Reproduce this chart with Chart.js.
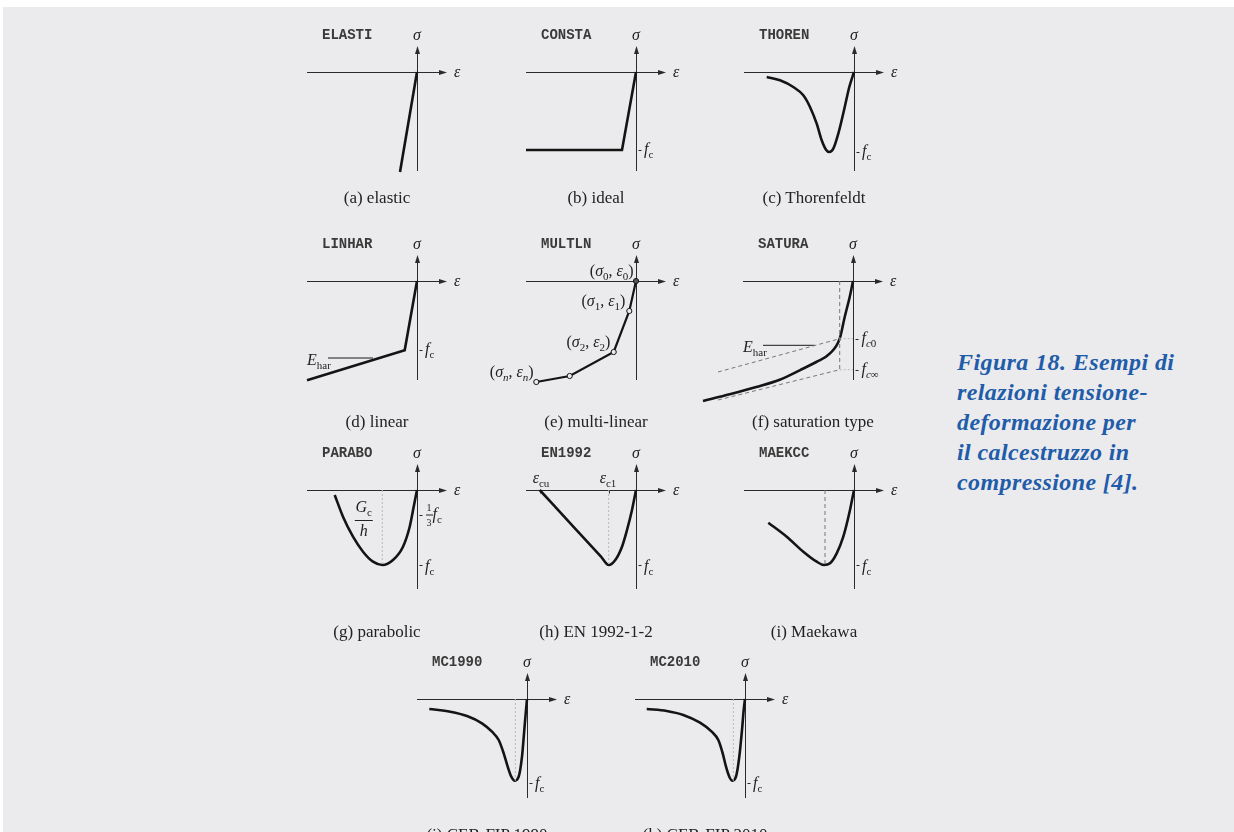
<!doctype html>
<html>
<head>
<title>Relazioni tensione-deformazione</title>
<script src="https://cdn.jsdelivr.net/npm/chart.js@4.4.1/dist/chart.umd.min.js"></script>
<style>
body { margin:0; background:#fff; width:1234px; height:832px; overflow:hidden; position:relative; }
#panel { position:absolute; left:3px; top:7px; right:0; bottom:0; background:#ebebed; }
canvas { position:absolute; }
.lbl { position:absolute; white-space:nowrap; font-family:"Liberation Serif", serif; color:#222; line-height:1; }
.ttl { font-family:"Liberation Mono", monospace; font-size:14px; font-weight:bold; color:#3a3a3a; }
.m { font-size:16px; }
.m.cap { font-size:17px; }
.m i { font-style:italic; }
.m sub { font-size:11px; vertical-align:-4px; }
.frac { display:inline-block; vertical-align:middle; text-align:center; }
.frac > span { display:block; }
.frac .num { border-bottom:1px solid #222; padding:0 1px 2px; }
.frac .den { padding-top:2px; }
.small .frac { font-size:10px; }
#caption { position:absolute; left:957px; top:347px; font-family:"Liberation Serif", serif; font-weight:bold; font-style:italic; font-size:24px; letter-spacing:0.4px; line-height:30px; color:#1f5ca9; }
</style>
</head>
<body>
<div id="panel"></div>
<div id="caption">Figura 18. Esempi di<br>relazioni tensione-<br>deformazione per<br>il calcestruzzo in<br>compressione [4].</div>
<script>
// strain / stress values, fc = roughly 0.8 units below the origin
var elasticX = [-0.17, 0];
var elasticY = [-1.0, 0];

var idealX = [-1.10, -0.14, 0];
var idealY = [-0.78, -0.78, 0];

var thorenX = [-0.873, -0.74, -0.607, -0.507, -0.44, -0.373, -0.323, -0.28, -0.247, -0.207, -0.157, -0.10, -0.047, 0];
var thorenY = [-0.05, -0.083, -0.15, -0.233, -0.35, -0.517, -0.683, -0.777, -0.80, -0.767, -0.617, -0.383, -0.15, 0];

var linharX = [-1.10, -0.123, 0];
var linharY = [-0.993, -0.693, 0];
var linharEhX = [-0.89, -0.44];
var linharEhY = [-0.77, -0.77];

var multlnX = [-0.997, -0.663, -0.223, -0.067, 0];
var multlnY = [-1.01, -0.95, -0.71, -0.30, 0];

var saturaX = [-1.50, -1.233, -0.967, -0.733, -0.533, -0.367, -0.233, -0.133, -0.083, -0.033, 0];
var saturaY = [-1.20, -1.133, -1.06, -0.987, -0.893, -0.81, -0.727, -0.577, -0.36, -0.16, 0];
var saturaUpX = [-1.35, -0.133];
var saturaUpY = [-0.91, -0.577];
var saturaLoX = [-1.35, -0.133];
var saturaLoY = [-1.19, -0.887];
var saturaEhX = [-0.90, -0.383];
var saturaEhY = [-0.643, -0.643];

var paraboX = [-0.823, -0.74, -0.64, -0.54, -0.44, -0.347, -0.24, -0.14, -0.073, -0.033, 0];
var paraboY = [-0.05, -0.267, -0.467, -0.617, -0.717, -0.75, -0.70, -0.567, -0.367, -0.167, 0];

var en1992X = [-0.963, -0.62, -0.35, -0.273, -0.207, -0.14, -0.09, -0.04, 0];
var en1992Y = [0, -0.373, -0.666, -0.75, -0.70, -0.567, -0.40, -0.20, 0];

var maekccX = [-0.857, -0.673, -0.507, -0.373, -0.30, -0.24, -0.173, -0.107, -0.04, 0];
var maekccY = [-0.327, -0.467, -0.617, -0.717, -0.75, -0.733, -0.633, -0.467, -0.20, 0];

var mc1990X = [-0.977, -0.767, -0.60, -0.45, -0.35, -0.283, -0.233, -0.193, -0.157, -0.123, -0.083, -0.05, -0.027, -0.01, 0];
var mc1990Y = [-0.10, -0.127, -0.17, -0.243, -0.327, -0.41, -0.543, -0.677, -0.777, -0.817, -0.777, -0.577, -0.31, -0.11, 0];

var mc2010X = [-0.983, -0.783, -0.617, -0.45, -0.333, -0.267, -0.223, -0.19, -0.157, -0.127, -0.09, -0.057, -0.03, -0.013, 0];
var mc2010Y = [-0.10, -0.12, -0.16, -0.237, -0.327, -0.41, -0.543, -0.677, -0.777, -0.817, -0.777, -0.577, -0.31, -0.11, 0];

var titles = ['ELASTI', 'CONSTA', 'THOREN', 'LINHAR', 'MULTLN', 'SATURA', 'PARABO', 'EN1992', 'MAEKCC', 'MC1990', 'MC2010'];
var captions = ['(a) elastic', '(b) ideal', '(c) Thorenfeldt', '(d) linear', '(e) multi-linear', '(f) saturation type',
  '(g) parabolic', '(h) EN 1992-1-2', '(i) Maekawa', '(j) CEB-FIP 1990', '(k) CEB-FIP 2010'];

function pts(xs, ys) {
  return xs.map(function(x, i) { return { x: x, y: ys[i] }; });
}
function curve(xs, ys) {
  return { data: pts(xs, ys), borderColor: '#141414', borderWidth: 2.6, cubicInterpolationMode: 'monotone' };
}
function poly(xs, ys) {
  return { data: pts(xs, ys), borderColor: '#141414', borderWidth: 2.6, tension: 0 };
}
function thin(xs, ys) {
  return { data: pts(xs, ys), borderColor: '#1a1a1a', borderWidth: 1, tension: 0 };
}
function dashed(xs, ys, light) {
  return { data: pts(xs, ys), borderColor: light ? '#b8b8b8' : '#777', borderWidth: 1,
    borderDash: light ? [2, 2] : [4, 3], tension: 0 };
}

var fc = '<i>f</i><sub>c</sub>';
var ehar = '<i>E</i><sub>har</sub>';

var diagrams = [
  { ox: 417, oy: 72, cy: -1.25, sets: [poly(elasticX, elasticY)], ticks: [], labels: [] },
  { ox: 636, oy: 72, cy: -1.25, sets: [poly(idealX, idealY)], ticks: [-0.78],
    labels: [{ x: 0.08, y: -0.78, a: 'l', html: fc }] },
  { ox: 854, oy: 72, cy: -1.25, sets: [curve(thorenX, thorenY)], ticks: [-0.80],
    labels: [{ x: 0.08, y: -0.80, a: 'l', html: fc }] },
  { ox: 417, oy: 281, cy: -1.40, sets: [poly(linharX, linharY), thin(linharEhX, linharEhY)], ticks: [-0.693],
    labels: [{ x: 0.08, y: -0.693, a: 'l', html: fc }, { x: -1.10, y: -0.80, a: 'l', html: ehar }] },
  { ox: 636, oy: 281, cy: -1.40, sets: [], ticks: [],
    labels: [
      { x: -0.023, y: 0.09, a: 'r', html: '(<i>σ</i><sub>0</sub>, <i>ε</i><sub>0</sub>)' },
      { x: -0.107, y: -0.21, a: 'r', html: '(<i>σ</i><sub>1</sub>, <i>ε</i><sub>1</sub>)' },
      { x: -0.257, y: -0.62, a: 'r', html: '(<i>σ</i><sub>2</sub>, <i>ε</i><sub>2</sub>)' },
      { x: -1.023, y: -0.92, a: 'r', html: '(<i>σ<sub>n</sub></i>, <i>ε<sub>n</sub></i>)' }] },
  { ox: 853, oy: 281, cy: -1.40,
    sets: [dashed(saturaUpX, saturaUpY), dashed(saturaLoX, saturaLoY),
      dashed([-0.133, -0.133], [0, -0.887]), dashed([-0.133, 0], [-0.577, -0.577], true),
      dashed([-0.133, 0], [-0.887, -0.887], true), thin(saturaEhX, saturaEhY), curve(saturaX, saturaY)],
    ticks: [-0.577, -0.887],
    labels: [{ x: 0.085, y: -0.577, a: 'l', html: '<i>f</i><sub><i>c</i>0</sub>' },
      { x: 0.085, y: -0.89, a: 'l', html: '<i>f</i><sub><i>c</i>∞</sub>' },
      { x: -1.10, y: -0.67, a: 'l', html: ehar }] },
  { ox: 417, oy: 490, cy: -1.41, sets: [dashed([-0.347, -0.347], [0, -0.75], true), curve(paraboX, paraboY)],
    ticks: [-0.25, -0.75],
    labels: [{ x: 0.085, y: -0.25, a: 'l', cls: 'm small', html: '<span class="frac"><span class="num">1</span><span class="den">3</span></span><i>f</i><sub>c</sub>' },
      { x: 0.08, y: -0.77, a: 'l', html: fc },
      { x: -0.533, y: -0.29, a: 'c', html: '<span class="frac"><span class="num"><i>G</i><sub>c</sub></span><span class="den"><i>h</i></span></span>' }] },
  { ox: 636, oy: 490, cy: -1.41, sets: [dashed([-0.273, -0.273], [0, -0.75], true), curve(en1992X, en1992Y)],
    ticks: [-0.75], xticks: [-0.963, -0.273],
    labels: [{ x: 0.08, y: -0.77, a: 'l', html: fc },
      { x: -0.95, y: 0.11, a: 'c', html: '<i>ε</i><sub>cu</sub>' },
      { x: -0.28, y: 0.11, a: 'c', html: '<i>ε</i><sub>c1</sub>' }] },
  { ox: 854, oy: 490, cy: -1.41, sets: [dashed([-0.29, -0.29], [0, -0.75]), curve(maekccX, maekccY)],
    ticks: [-0.75], labels: [{ x: 0.08, y: -0.77, a: 'l', html: fc }] },
  { ox: 527, oy: 699, cy: -1.35, sets: [dashed([-0.117, -0.117], [0, -0.817], true), curve(mc1990X, mc1990Y)],
    ticks: [-0.84], labels: [{ x: 0.08, y: -0.85, a: 'l', html: fc }] },
  { ox: 745, oy: 699, cy: -1.35, sets: [dashed([-0.117, -0.117], [0, -0.817], true), curve(mc2010X, mc2010Y)],
    ticks: [-0.84], labels: [{ x: 0.08, y: -0.85, a: 'l', html: fc }] }
];

// multi-linear points with open markers
diagrams[4].sets.push({
  data: pts(multlnX, multlnY), borderColor: '#141414', borderWidth: 2.2, tension: 0,
  pointRadius: 2.6, pointBorderWidth: 1, pointBorderColor: '#141414',
  pointBackgroundColor: ['#ebebed', '#ebebed', '#ebebed', '#ebebed', '#555']
});

var axesPlugin = {
  id: 'axes',
  beforeDatasetsDraw: function(chart, args, opts) {
    var ctx = chart.ctx, xs = chart.scales.x, ys = chart.scales.y;
    var x0 = Math.round(xs.getPixelForValue(0)) + 0.5;
    var y0 = Math.round(ys.getPixelForValue(0)) + 0.5;
    var l = xs.getPixelForValue(-1.10), r = xs.getPixelForValue(0.30);
    var t = ys.getPixelForValue(0.26), b = ys.getPixelForValue(-0.99);
    ctx.save();
    ctx.strokeStyle = '#2a2a2a';
    ctx.fillStyle = '#2a2a2a';
    ctx.lineWidth = 1;
    ctx.beginPath();
    ctx.moveTo(l, y0); ctx.lineTo(r - 5, y0);
    ctx.moveTo(x0, b); ctx.lineTo(x0, t + 5);
    (opts.ticks || []).forEach(function(v) {
      var y = Math.round(ys.getPixelForValue(v)) + 0.5;
      ctx.moveTo(x0 + 2, y); ctx.lineTo(x0 + 5, y);
    });
    (opts.xticks || []).forEach(function(v) {
      var x = Math.round(xs.getPixelForValue(v)) + 0.5;
      ctx.moveTo(x, y0); ctx.lineTo(x, y0 + 3);
    });
    ctx.stroke();
    ctx.beginPath();
    ctx.moveTo(r, y0); ctx.lineTo(r - 8, y0 - 2.5); ctx.lineTo(r - 8, y0 + 2.5); ctx.closePath();
    ctx.moveTo(x0, t); ctx.lineTo(x0 - 2.5, t + 8); ctx.lineTo(x0 + 2.5, t + 8); ctx.closePath();
    ctx.fill();
    ctx.restore();
  }
};

function addLabel(chart, left, top, lb) {
  var el = document.createElement('div');
  el.className = 'lbl ' + (lb.cls || 'm');
  el.innerHTML = lb.html;
  el.style.left = (left + chart.scales.x.getPixelForValue(lb.x)) + 'px';
  el.style.top = (top + chart.scales.y.getPixelForValue(lb.y)) + 'px';
  el.style.transform = lb.a === 'c' ? 'translate(-50%,-50%)' : lb.a === 'r' ? 'translate(-100%,-50%)' : 'translate(0,-50%)';
  document.body.appendChild(el);
}

diagrams.forEach(function(d, i) {
  var left = d.ox - 160, top = d.oy - 45;
  var canvas = document.createElement('canvas');
  canvas.width = 210; canvas.height = 175;
  canvas.style.left = left + 'px'; canvas.style.top = top + 'px';
  canvas.style.width = '210px'; canvas.style.height = '175px';
  document.body.appendChild(canvas);

  d.sets.forEach(function(s) {
    if (s.pointRadius === undefined) s.pointRadius = 0;
    s.showLine = true;
    s.fill = false;
  });

  var chart = new Chart(canvas.getContext('2d'), {
    type: 'scatter',
    data: { datasets: d.sets },
    options: {
      responsive: false,
      animation: false,
      events: [],
      layout: { padding: 0, autoPadding: false },
      scales: {
        x: { type: 'linear', min: -1.6, max: 0.5, display: false },
        y: { type: 'linear', min: -1.3, max: 0.45, display: false }
      },
      plugins: {
        legend: { display: false },
        tooltip: { enabled: false },
        axes: { ticks: d.ticks, xticks: d.xticks }
      }
    },
    plugins: [axesPlugin]
  });

  var common = [
    { x: -0.95, y: 0.37, a: 'l', cls: 'ttl', html: titles[i] },
    { x: 0, y: 0.37, a: 'c', html: '<i>σ</i>' },
    { x: 0.37, y: 0.0, a: 'l', html: '<i>ε</i>' },
    { x: -0.40, y: d.cy, a: 'c', cls: 'm cap', html: captions[i] }
  ];
  common.concat(d.labels).forEach(function(lb) { addLabel(chart, left, top, lb); });
});
</script>
</body>
</html>
